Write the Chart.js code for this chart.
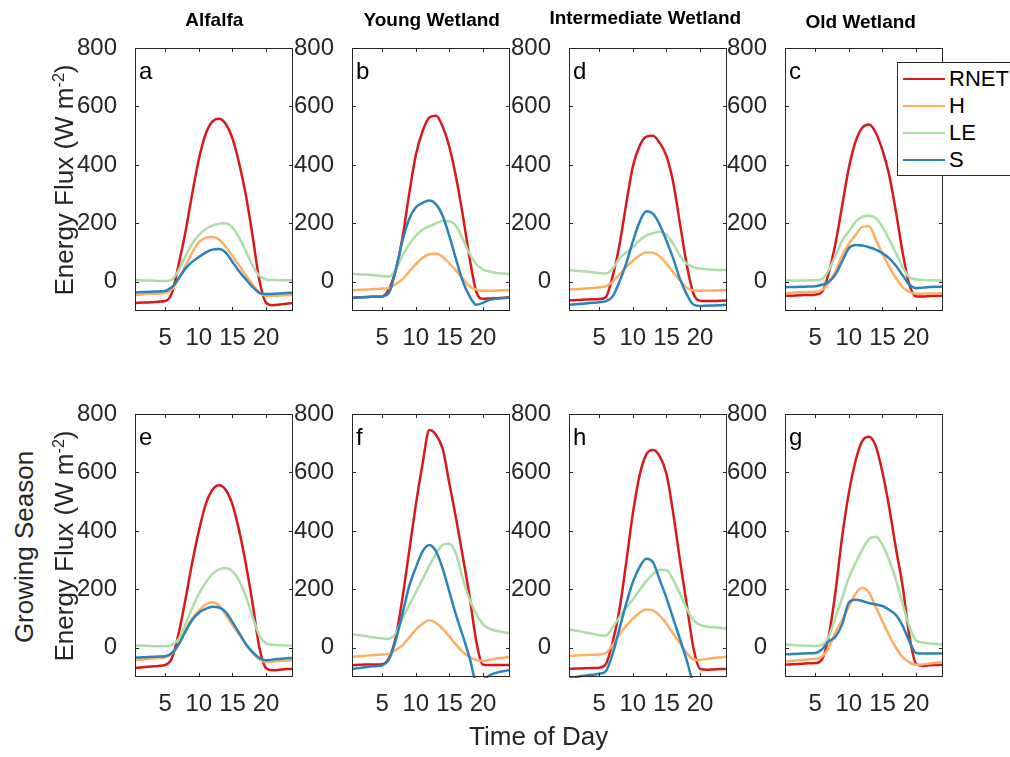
<!DOCTYPE html>
<html>
<head>
<meta charset="utf-8">
<script src="https://cdn.jsdelivr.net/npm/chart.js@4.4.1/dist/chart.umd.min.js"></script>
<style>
  html, body { margin: 0; padding: 0; background: #fff; }
  #fig { position: relative; width: 1010px; height: 757px; overflow: hidden; background: #fff;
         font-family: "Liberation Sans", Arial, Helvetica, sans-serif; color: #262626; }
  #fig canvas { position: absolute; }
  .txt { position: absolute; white-space: nowrap; line-height: 1; }
  .ylab { position: absolute; white-space: nowrap; line-height: 1; font-size: 26px;
          transform: translate(-50%, -50%) rotate(-90deg); }
  .ylab sup { font-size: 0.62em; vertical-align: 0; position: relative; top: -0.55em; line-height: 0; }
  #legend { position: absolute; background: #fff; border: 1px solid #262626; }
</style>
</head>
<body>
<div id="fig"></div>
<script>
// Hour of day for every sample
const HOURS = [0.5,1,2,3,4,5,6,7,8,9,10,11,12,13,14,15,16,17,18,19,20,21,22,23,24];
const X_TICKS = [5, 10, 15, 20];
const Y_TICKS = [0, 200, 400, 600, 800];

const SITE_TITLES = ['Alfalfa', 'Young Wetland', 'Intermediate Wetland', 'Old Wetland'];
const PANEL_LETTERS = [['a', 'b', 'd', 'c'], ['e', 'f', 'h', 'g']];
const SERIES_NAMES = ['RNET', 'H', 'LE', 'S'];
const SERIES_COLORS = ['#d7191c', '#fdae61', '#abdda4', '#2b83ba'];

// ---- Mean diurnal fluxes, W m-2 ----
const alfalfaRnet = [-73,-72,-71,-70,-68,-66,-38,60,170,300,420,505,548,558,540,490,405,295,155,5,-72,-80,-78,-75,-73];
const alfalfaH    = [-45,-44,-42,-41,-40,-38,-25,10,55,100,135,150,153,145,120,88,55,22,-10,-38,-48,-48,-47,-46,-45];
const alfalfaLE   = [5,5,4,4,3,3,8,40,88,130,160,180,192,199,200,185,150,105,55,20,8,6,5,5,5];
const alfalfaS    = [-37,-36,-35,-34,-33,-31,-18,12,45,68,85,100,110,112,100,68,35,8,-18,-38,-42,-41,-40,-38,-37];

const youngRnet = [-55,-54,-53,-52,-51,-50,-25,40,150,300,435,515,562,568,530,460,355,225,80,-35,-58,-57,-56,-55,-54];
const youngH    = [-29,-28,-27,-26,-25,-23,-21,-8,8,35,60,82,94,97,85,62,38,10,-15,-27,-31,-31,-30,-29,-28];
const youngLE   = [27,26,25,24,22,20,18,40,90,128,158,178,190,200,209,207,190,145,95,60,42,35,30,28,26];
const youngS    = [-56,-55,-53,-52,-51,-50,-38,40,140,215,255,270,278,265,225,155,75,0,-50,-79,-72,-62,-58,-56,-54];

const intermediateRnet = [-63,-63,-62,-61,-60,-59,-52,20,125,265,395,465,497,500,475,430,340,200,60,-40,-65,-66,-66,-65,-64];
const intermediateH    = [-27,-26,-25,-23,-21,-19,-15,0,25,50,72,90,100,99,86,62,32,5,-20,-30,-31,-30,-30,-29,-29];
const intermediateLE   = [40,39,37,35,33,30,28,45,80,100,118,142,158,166,171,160,130,90,62,50,45,43,41,40,40];
const intermediateS    = [-79,-78,-76,-74,-72,-70,-66,-50,0,62,138,205,241,232,195,140,80,10,-42,-78,-83,-82,-81,-80,-79];

const oldRnet = [-48,-48,-47,-46,-45,-44,-35,30,130,260,390,480,527,538,510,450,365,240,100,-10,-50,-50,-49,-48,-48];
const oldH    = [-39,-38,-37,-36,-35,-34,-28,-5,35,90,130,160,188,190,145,95,52,12,-18,-35,-41,-41,-40,-40,-39];
const oldLE   = [4,4,4,4,5,5,10,40,88,140,172,205,222,226,218,188,145,98,50,15,8,6,5,5,4];
const oldS    = [-19,-18,-18,-17,-16,-15,-10,0,25,70,115,126,124,118,110,98,80,55,22,-10,-22,-20,-18,-17,-17];

// ---- Growing season ----
const gsAlfalfaRnet = [-69,-68,-66,-64,-62,-59,-35,50,165,290,400,490,540,556,540,490,400,285,150,0,-70,-77,-75,-73,-72];
const gsAlfalfaH    = [-42,-41,-39,-37,-35,-33,-20,10,60,100,127,148,156,145,112,78,45,12,-18,-40,-48,-47,-45,-44,-43];
const gsAlfalfaLE   = [8,8,7,6,5,5,10,30,80,135,185,222,252,268,273,262,230,175,105,42,15,10,9,8,8];
const gsAlfalfaS    = [-33,-33,-32,-31,-30,-29,-18,12,55,95,120,133,140,138,122,88,50,12,-15,-35,-43,-40,-38,-36,-35];

const gsYoungRnet = [-60,-59,-58,-57,-57,-56,-35,35,170,330,490,630,745,728,680,560,440,310,175,20,-58,-59,-59,-59,-59];
const gsYoungH    = [-31,-30,-28,-26,-25,-23,-20,-8,8,35,62,82,94,85,65,38,10,-15,-32,-42,-45,-41,-37,-34,-31];
const gsYoungLE   = [46,45,42,38,35,32,31,50,100,145,190,235,280,322,352,356,320,235,165,115,80,65,58,53,50];
const gsYoungS    = [-73,-71,-68,-65,-63,-60,-40,25,115,210,275,330,352,330,270,190,110,40,-35,-115,-108,-94,-85,-80,-76];

const gsIntermediateRnet = [-73,-72,-71,-70,-69,-68,-55,20,130,290,460,590,662,677,655,595,460,300,150,0,-72,-75,-74,-73,-73];
const gsIntermediateH    = [-28,-27,-26,-25,-24,-23,-18,10,45,75,100,120,131,127,110,82,48,15,-18,-40,-42,-38,-35,-33,-31];
const gsIntermediateLE   = [62,61,57,52,48,43,42,70,105,138,165,198,228,252,267,266,232,185,135,95,78,72,70,68,66];
const gsIntermediateS    = [-106,-103,-98,-95,-92,-89,-80,-20,65,150,225,276,305,292,232,170,100,30,-42,-120,-140,-140,-140,-140,-140];

const gsOldRnet = [-58,-57,-56,-55,-53,-52,-40,40,190,380,530,640,708,722,690,600,480,340,210,40,-55,-62,-60,-59,-58];
const gsOldH    = [-47,-46,-44,-42,-40,-38,-30,0,52,95,140,185,205,188,140,90,42,0,-32,-50,-58,-57,-54,-51,-49];
const gsOldLE   = [10,10,9,8,7,6,10,38,105,170,240,290,335,372,380,352,300,232,150,72,25,18,15,13,11];
const gsOldS    = [-22,-22,-21,-20,-19,-18,-5,22,38,80,155,164,160,153,148,143,130,112,75,22,-18,-20,-20,-20,-20];

const PANELS = [
  [
    { RNET: alfalfaRnet, H: alfalfaH, LE: alfalfaLE, S: alfalfaS },
    { RNET: youngRnet, H: youngH, LE: youngLE, S: youngS },
    { RNET: intermediateRnet, H: intermediateH, LE: intermediateLE, S: intermediateS },
    { RNET: oldRnet, H: oldH, LE: oldLE, S: oldS }
  ],
  [
    { RNET: gsAlfalfaRnet, H: gsAlfalfaH, LE: gsAlfalfaLE, S: gsAlfalfaS },
    { RNET: gsYoungRnet, H: gsYoungH, LE: gsYoungLE, S: gsYoungS },
    { RNET: gsIntermediateRnet, H: gsIntermediateH, LE: gsIntermediateLE, S: gsIntermediateS },
    { RNET: gsOldRnet, H: gsOldH, LE: gsOldLE, S: gsOldS }
  ]
];

// ---- Layout ----
const FONT = '"Liberation Sans", Arial, Helvetica, sans-serif';
const AXIS_COLOR = '#262626';
const COL_LEFT = [135, 352, 569, 785];
const ROW_TOP = [48, 414];
const PLOT_W = 158, PLOT_H = 263;
const M_LEFT = 70, M_TOP = 25, M_RIGHT = 10, M_BOTTOM = 50;
const TICK_LEN = 4;

const fig = document.getElementById('fig');

// Axes box, inward tick marks and the panel letter
const framePlugin = {
  id: 'panelFrame',
  afterDraw(chart, args, opts) {
    const { ctx, chartArea: a } = chart;
    const xs = chart.scales.x, ys = chart.scales.y;
    ctx.save();
    ctx.strokeStyle = AXIS_COLOR;
    ctx.lineWidth = 1;
    ctx.strokeRect(a.left + 0.5, a.top + 0.5, a.right - a.left - 1, a.bottom - a.top - 1);
    ctx.beginPath();
    xs.ticks.forEach(t => {
      const px = Math.round(xs.getPixelForValue(t.value)) + 0.5;
      ctx.moveTo(px, a.bottom); ctx.lineTo(px, a.bottom - TICK_LEN);
      ctx.moveTo(px, a.top); ctx.lineTo(px, a.top + TICK_LEN);
    });
    ys.ticks.forEach(t => {
      const py = Math.round(ys.getPixelForValue(t.value)) + 0.5;
      ctx.moveTo(a.left, py); ctx.lineTo(a.left + TICK_LEN, py);
      ctx.moveTo(a.right, py); ctx.lineTo(a.right - TICK_LEN, py);
    });
    ctx.stroke();
    ctx.fillStyle = '#000';
    ctx.font = '24px ' + FONT;
    ctx.textBaseline = 'alphabetic';
    ctx.textAlign = 'left';
    ctx.fillText(opts.letter, a.left + 4, a.top + 30.5);
    ctx.restore();
  }
};

function makePanel(row, col) {
  const canvas = document.createElement('canvas');
  canvas.width = M_LEFT + PLOT_W + M_RIGHT;
  canvas.height = M_TOP + PLOT_H + M_BOTTOM;
  canvas.style.left = (COL_LEFT[col] - M_LEFT) + 'px';
  canvas.style.top = (ROW_TOP[row] - M_TOP) + 'px';
  fig.appendChild(canvas);
  const panel = PANELS[row][col];
  const tickFont = { family: FONT, size: 24, lineHeight: 1.2 };

  new Chart(canvas, {
    type: 'line',
    data: {
      datasets: SERIES_NAMES.map((name, i) => ({
        label: name,
        data: HOURS.map((h, k) => ({ x: h, y: panel[name][k] })),
        borderColor: SERIES_COLORS[i],
        backgroundColor: SERIES_COLORS[i],
        borderWidth: 2.5,
        pointRadius: 0,
        cubicInterpolationMode: 'monotone',
        fill: false,
        clip: 1,
        order: SERIES_NAMES.length - 1 - i
      }))
    },
    options: {
      responsive: false,
      animation: false,
      devicePixelRatio: 1,
      events: [],
      layout: { padding: { left: 0, top: M_TOP, right: M_RIGHT, bottom: 0 } },
      plugins: {
        legend: { display: false },
        tooltip: { enabled: false },
        panelFrame: { letter: PANEL_LETTERS[row][col] }
      },
      scales: {
        x: {
          type: 'linear', min: 0.5, max: 24,
          grid: { display: false }, border: { display: false },
          afterBuildTicks(s) { s.ticks = X_TICKS.map(v => ({ value: v })); },
          afterFit(s) { s.height = M_BOTTOM; },
          ticks: { font: tickFont, color: AXIS_COLOR, padding: 5, maxRotation: 0, autoSkip: false }
        },
        y: {
          type: 'linear', min: -100, max: 800,
          grid: { display: false }, border: { display: false },
          afterBuildTicks(s) { s.ticks = Y_TICKS.map(v => ({ value: v })); },
          afterFit(s) { s.width = M_LEFT; },
          ticks: { font: tickFont, color: AXIS_COLOR, padding: 10, autoSkip: false }
        }
      }
    },
    plugins: [framePlugin]
  });
}

for (let r = 0; r < 2; r++) for (let c = 0; c < 4; c++) makePanel(r, c);

// ---- Text placed by baseline ----
function placeText(str, x, baseline, size, opts = {}) {
  const d = document.createElement('div');
  d.className = 'txt';
  d.textContent = str;
  d.style.fontSize = size + 'px';
  d.style.top = (baseline - 0.8465 * size) + 'px';
  d.style.left = x + 'px';
  if (opts.bold) d.style.fontWeight = 'bold';
  if (opts.color) d.style.color = opts.color;
  if (opts.center) d.style.transform = 'translateX(-50%)';
  fig.appendChild(d);
  return d;
}

const TITLE_X = [214.3, 431.7, 645.3, 860.7];
const TITLE_BASE = [26, 26, 24, 28.3];
SITE_TITLES.forEach((t, i) => placeText(t, TITLE_X[i], TITLE_BASE[i], 19, { bold: true, center: true, color: '#000' }));

placeText('Time of Day', 538.7, 745, 26, { center: true });

function placeYLabel(html, cx, cy) {
  const d = document.createElement('div');
  d.className = 'ylab';
  d.innerHTML = html;
  d.style.left = cx + 'px';
  d.style.top = cy + 'px';
  fig.appendChild(d);
}
const fluxLabel = 'Energy Flux (W m<sup>-2</sup>)';
placeYLabel(fluxLabel, 63.5, 180);
placeYLabel('Growing Season', 23.5, 547);
placeYLabel(fluxLabel, 63.5, 546);

// ---- Legend ----
const legend = document.createElement('div');
legend.id = 'legend';
Object.assign(legend.style, { left: '897px', top: '62px', width: '130px', height: '112px' });
fig.appendChild(legend);
const LEGEND_ROW_Y = [79, 106, 133, 160];
SERIES_NAMES.forEach((name, i) => {
  const line = document.createElement('div');
  Object.assign(line.style, {
    position: 'absolute', left: '903px', width: '42px', height: '2.5px',
    top: (LEGEND_ROW_Y[i] - 1.25) + 'px', background: SERIES_COLORS[i]
  });
  fig.appendChild(line);
  placeText(name, 949, LEGEND_ROW_Y[i] + 0.716 * 22 / 2, 22, { color: '#000' });
});
</script>
</body>
</html>
